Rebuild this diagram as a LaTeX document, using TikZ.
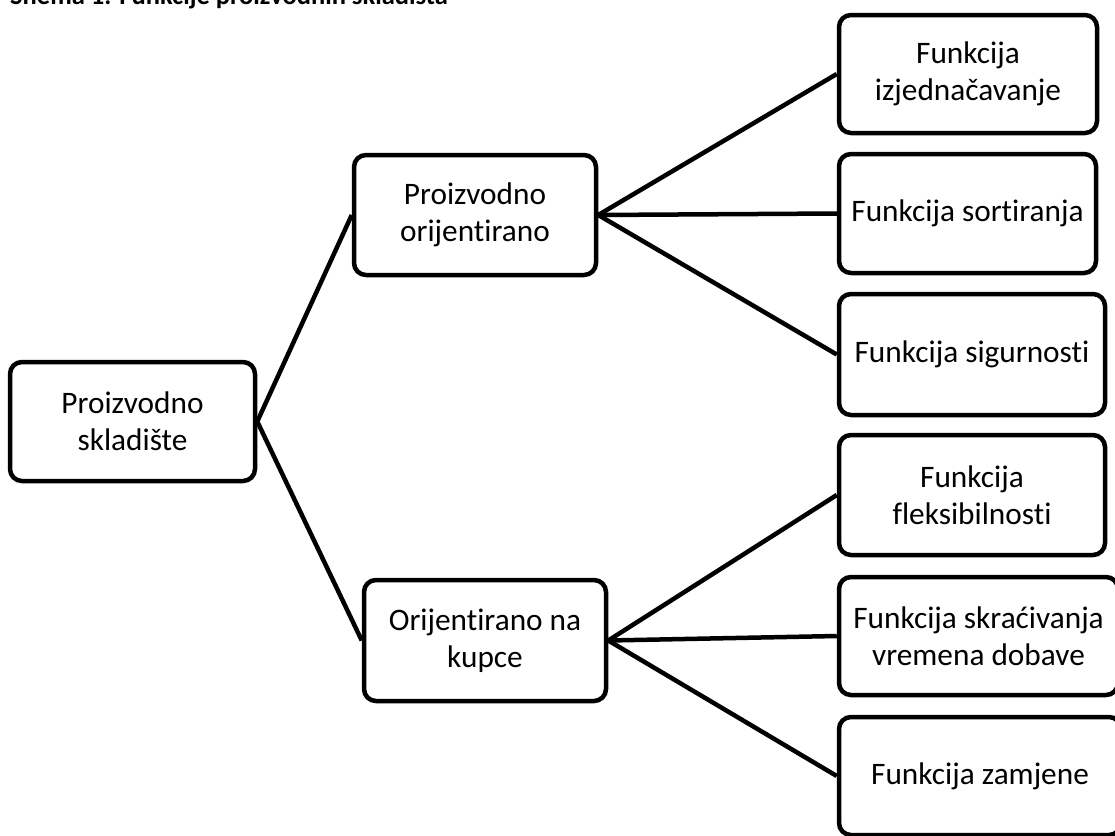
\documentclass[tikz,border=0pt]{standalone}
\usepackage{fontspec}
\setmainfont{Carlito}[Ligatures={NoCommon,NoRare}]
\begin{document}
\begin{tikzpicture}[x=1pt,y=-1pt,
  box/.style={draw=black, line width=4.5pt, rounded corners=12pt, fill=white,
    align=center, inner sep=2pt,
    font=\fontsize{31.3pt}{37pt}\selectfont},
  link/.style={draw=black, line width=4.5pt}]
\useasboundingbox (0,0) rectangle (1115,835);
\clip (0,0) rectangle (1115,835);

% heading (upper part lies outside the page)
\node[anchor=base west, inner sep=0pt, font=\fontsize{26.5pt}{30pt}\selectfont\bfseries]
  (title) at (10,5) {Shema 1. Funkcije proizvodnih skladišta};

% node centres
\coordinate (r)  at (132.5,421.5);
\coordinate (m1) at (475,215);
\coordinate (m2) at (485,640.5);

% root and middle level
\node[box, minimum width=245pt, minimum height=119pt] (root) at (r) {Proizvodno\\skladište};
\node[box, minimum width=242pt, minimum height=120pt] (prod) at (m1) {Proizvodno\\orijentirano};
\node[box, minimum width=242pt, minimum height=121pt] (kup) at (m2) {Orijentirano na\\kupce};

% functions
\node[box, minimum width=258pt, minimum height=118pt] (f1) at (968,74) {Funkcija\\izjednačavanje};
\node[box, minimum width=257pt, minimum height=119pt] (f2) at (967.5,213.5) {Funkcija sortiranja};
\node[box, minimum width=266pt, minimum height=121pt] (f3) at (972,354.5) {Funkcija sigurnosti};
\node[box, minimum width=266pt, minimum height=120pt] (f4) at (972,495) {Funkcija\\fleksibilnosti};
\node[box, minimum width=279pt, minimum height=118pt] (f5) at (978.5,636) {Funkcija skraćivanja\\vremena dobave};
\node[box, minimum width=282pt, minimum height=118pt] (f6) at (980,776) {Funkcija zamjene};

% connectors
\draw[link] (root.east) -- (prod.west);
\draw[link] (root.east) -- (kup.west);
\foreach \f in {f1,f2,f3} \draw[link] (prod.east) -- (\f.west);
\foreach \f in {f4,f5,f6} \draw[link] (kup.east) -- (\f.west);
\end{tikzpicture}
\end{document}
